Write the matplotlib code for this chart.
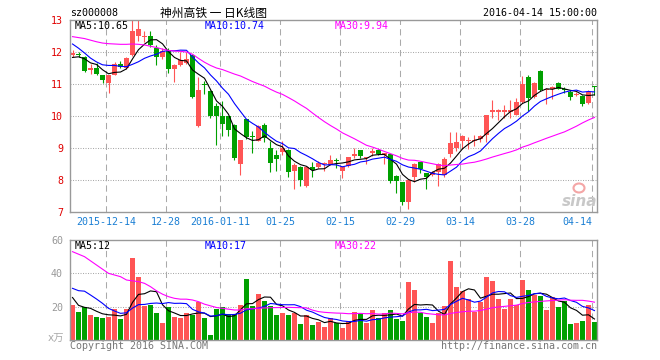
import matplotlib
matplotlib.use("Agg")
import matplotlib.pyplot as plt
from matplotlib.patches import Ellipse
import numpy as np
import pandas as pd

plt.rcParams['font.family'] = ['DejaVu Sans Mono', 'Noto Sans CJK SC']

# 日K数据 (2015-12-04 ~ 2016-04-14)
opens = [11.92, 11.92, 11.83, 11.45, 11.5, 11.27, 11.04, 11.29, 11.62, 11.5,
         11.9, 12.5, 12.46, 12.5, 12.12, 11.83, 12.04, 11.46, 11.59, 11.65,
         11.9, 9.69, 11.0, 10.79, 10.3, 10.01, 9.99, 9.71, 8.5, 9.92,
         9.35, 9.23, 9.71, 9.0, 8.77, 8.88, 8.95, 8.29, 8.41, 7.82,
         8.41, 8.41, 8.49, 8.48, 8.59, 8.27, 8.43, 8.74, 8.94, 8.68,
         8.84, 8.95, 8.77, 8.81, 8.14, 7.94, 7.31, 8.1, 8.56, 8.22,
         8.17, 8.25, 8.17, 8.81, 9.0, 9.23, 9.22, 9.22, 9.27, 9.42,
         10.14, 10.14, 10.14, 10.12, 10.04, 10.44, 11.21, 10.58, 11.42, 10.82,
         10.84, 11.03, 10.85, 10.75, 10.66, 10.63, 10.41, 10.92]
highs = [12.05, 12.0, 11.86, 11.62, 11.65, 11.28, 11.27, 11.69, 11.73, 11.83,
         13.0, 13.0, 12.65, 12.67, 12.23, 12.12, 12.12, 11.62, 12.01, 12.0,
         11.95, 11.21, 11.08, 10.8, 10.41, 10.48, 10.0, 9.75, 9.26, 9.92,
         9.52, 9.71, 9.78, 9.21, 8.94, 9.21, 8.96, 8.52, 8.43, 8.45,
         8.56, 8.58, 8.56, 8.77, 8.69, 8.43, 8.71, 9.0, 8.95, 8.72,
         9.0, 8.96, 8.85, 8.82, 8.17, 7.95, 8.04, 8.52, 8.57, 8.23,
         8.28, 8.52, 8.71, 9.5, 9.5, 9.42, 9.35, 9.4, 9.4, 10.04,
         10.51, 10.23, 10.33, 10.51, 10.56, 11.24, 11.27, 11.06, 11.43, 10.87,
         10.93, 11.06, 10.9, 10.82, 10.74, 10.67, 10.82, 10.94]
lows = [11.85, 11.83, 11.38, 11.3, 11.29, 11.04, 10.73, 11.27, 11.5, 11.48,
        11.88, 12.33, 12.31, 12.15, 11.6, 11.77, 11.35, 11.07, 11.57, 11.63,
        10.55, 9.66, 10.69, 9.94, 9.1, 9.36, 9.36, 8.64, 8.17, 9.29,
        8.84, 9.21, 9.2, 8.25, 8.27, 8.79, 8.08, 7.73, 7.8, 7.78,
        8.08, 8.38, 8.27, 8.46, 8.37, 8.06, 8.4, 8.69, 8.69, 8.5,
        8.74, 8.77, 8.5, 7.91, 7.59, 7.21, 7.1, 7.94, 8.22, 7.73,
        8.13, 7.8, 8.1, 8.71, 8.9, 8.98, 8.98, 9.05, 9.2, 9.19,
        9.94, 9.89, 9.94, 9.94, 10.02, 10.41, 10.17, 10.56, 10.77, 10.38,
        10.54, 10.83, 10.73, 10.51, 10.62, 10.3, 10.38, 10.67]
closes = [11.94, 11.9, 11.42, 11.48, 11.31, 11.12, 11.27, 11.63, 11.54, 11.81,
          12.67, 12.71, 12.49, 12.21, 11.85, 12.02, 11.48, 11.59, 11.75, 11.77,
          10.6, 10.81, 10.97, 9.99, 9.99, 9.75, 9.57, 8.69, 9.26, 9.33,
          9.33, 9.68, 9.31, 8.53, 8.67, 9.0, 8.25, 8.48, 8.0, 8.41,
          8.31, 8.53, 8.51, 8.64, 8.58, 8.4, 8.71, 8.81, 8.74, 8.69,
          8.92, 8.81, 8.84, 7.96, 7.96, 7.31, 8.01, 8.5, 8.35, 8.09,
          8.25, 8.5, 8.65, 9.15, 9.19, 9.38, 9.24, 9.24, 9.38, 10.02,
          10.16, 10.16, 10.16, 10.2, 10.44, 11.0, 10.56, 11.03, 10.82, 10.84,
          10.92, 10.85, 10.8, 10.6, 10.67, 10.38, 10.75, 10.9]
# 成交量 (x万)
volumes = [21, 16.8, 19.6, 15, 13.8, 13.4, 13.8, 18.6, 12.6, 18.6,
           49.2, 37.8, 20.6, 21, 16.2, 10.2, 19.8, 13.8, 13.4, 16.2,
           15, 22.8, 13.2, 3, 18.6, 19.8, 15.6, 15.6, 21, 36.6,
           20.4, 27.6, 23.4, 20.4, 15, 16.2, 15, 16.2, 9.6, 15,
           9, 10.8, 7.8, 13.4, 10.2, 7.2, 11.4, 16.8, 16.2, 10.2,
           18, 13.2, 16.2, 18, 12.6, 11.4, 34.8, 30, 16.2, 13.8,
           10.2, 16.2, 20.4, 47.4, 31.8, 29.4, 24.6, 16.8, 22.8, 37.8,
           35.4, 24.6, 18.6, 24.6, 21, 36, 30, 27, 26.4, 18,
           25.8, 19.8, 23.4, 9.6, 10.2, 11.4, 21, 10.8]

# 均线开头几根 (窗口之前的数据看不到, 直接从图上读)
ma5_head = [11.83, 11.85, 11.79, 11.66]
ma10_head = [12.25, 12.12, 11.97, 11.81, 11.69, 11.6, 11.58, 11.58, 11.55]
ma30_head = [12.48, 12.45, 12.42, 12.37, 12.32, 12.28, 12.26, 12.25, 12.24, 12.24,
             12.25, 12.24, 12.22, 12.18, 12.14, 12.09, 12.05, 12.03, 12.02, 12.0,
             11.93, 11.8, 11.68, 11.58, 11.5, 11.45, 11.38, 11.31, 11.25]
vol_ma5_head = [25.5, 20.8, 19.6, 19.0]
vol_ma10_head = [31, 29.6, 29.3, 27, 24.6, 22, 19, 17.4, 16]
vol_ma30_head = [53, 51.5, 50, 47.5, 45, 42.5, 40, 39, 38, 36,
                 35.5, 35, 34, 32, 29.5, 27.5, 26, 25, 24.5, 24.5,
                 24, 23, 21.5, 20.5, 19.5, 19, 18.5, 18, 18]

tick_index = [6, 16, 25, 35, 45, 55, 65, 75, 87]
tick_labels = ['2015-12-14', '12-28', '2016-01-11', '01-25', '02-15',
               '02-29', '03-14', '03-28', '04-14']
price_ticks = [7, 8, 9, 10, 11, 12, 13]
vol_ticks = [20, 40, 60]

RED = '#ff5555'
GREEN = '#00a000'
GRID = '#aaaaaa'
W, H = 660, 360


def moving_avg(values, n, head):
    s = pd.Series(values).rolling(n).mean().to_numpy()
    s[:len(head)] = head
    return s


def px_text(x, y, s, **kw):
    kw.setdefault('va', 'center')
    fig.text(x / W, 1 - y / H, s, **kw)


def style_axis(ax):
    for sp in ax.spines.values():
        sp.set_color('#999999')
        sp.set_linewidth(1)
    ax.set_xticks([])
    ax.set_xlim(-0.417, 87.42)
    for i in tick_index:
        ax.axvline(i - 0.417, color=GRID, lw=0.75, ls=(0, (6, 4)), zorder=0)


x = np.arange(len(closes))
o = np.array(opens)
c = np.array(closes)
colors = np.where(c >= o, RED, GREEN)

fig = plt.figure(figsize=(6.6, 3.6), dpi=100)
ax = fig.add_axes([70 / W, 1 - 212 / H, 527 / W, 192 / H])
axv = fig.add_axes([70 / W, 1 - 340 / H, 527 / W, 100 / H])

# ---- K线 ----
style_axis(ax)
ax.set_ylim(7, 13)
for v in price_ticks[1:-1]:
    ax.axhline(v, color=GRID, lw=0.75, ls=(0, (1, 1.4)), zorder=0)
ax.vlines(x, lows, highs, colors=colors, lw=0.8, zorder=2)
ax.bar(x, np.maximum(np.abs(c - o), 0.035), bottom=np.minimum(o, c),
       width=0.83, color=colors, linewidth=0, zorder=2)
ax.plot(x, moving_avg(closes, 5, ma5_head), color='black', lw=0.8, zorder=3)
ax.plot(x, moving_avg(closes, 10, ma10_head), color='#0000ff', lw=0.8, zorder=3)
ax.plot(x, moving_avg(closes, 30, ma30_head), color='#ff00ff', lw=0.8, zorder=3)
ax.set_yticks(price_ticks)
ax.set_yticklabels([str(t) for t in price_ticks], color='#e00000', fontsize=7.2)
ax.tick_params(axis='y', length=0, pad=5)

# ---- 成交量 ----
style_axis(axv)
axv.set_ylim(0, 60)
for v in vol_ticks[:-1]:
    axv.axhline(v, color=GRID, lw=0.75, ls=(0, (1, 1.4)), zorder=0)
axv.bar(x, volumes, width=0.83, color=colors, linewidth=0, zorder=2)
axv.plot(x, moving_avg(volumes, 5, vol_ma5_head), color='black', lw=0.8, zorder=3)
axv.plot(x, moving_avg(volumes, 10, vol_ma10_head), color='#0000ff', lw=0.8, zorder=3)
axv.plot(x, moving_avg(volumes, 30, vol_ma30_head), color='#ff00ff', lw=0.8, zorder=3)
axv.set_yticks(vol_ticks)
axv.set_yticklabels([str(t) for t in vol_ticks], color='#999999', fontsize=7.2)
axv.tick_params(axis='y', length=0, pad=5)

# 日期标签 (居中在网格线上, 最后一个往左收)
for i, lab in zip(tick_index, tick_labels):
    px = 70 + i * 6
    if i == tick_index[-1]:
        px = 577
    px_text(px, 222, lab, ha='center', color='#1a7fd4', fontsize=7.2)

# 标题行
px_text(70, 13, 'sz000008', ha='left', fontsize=7.2)
px_text(213, 13, '神州高铁 一 日K线图', ha='center', fontsize=8.5,
        family=['Noto Sans CJK SC', 'DejaVu Sans'])
px_text(597, 13, '2016-04-14 15:00:00', ha='right', fontsize=7.2)

# 均线数值
px_text(75, 26, 'MA5:10.65', ha='left', fontsize=7.2, color='black')
px_text(205, 26, 'MA10:10.74', ha='left', fontsize=7.2, color='#0000ff')
px_text(335, 26, 'MA30:9.94', ha='left', fontsize=7.2, color='#ff00ff')
px_text(75, 246, 'MA5:12', ha='left', fontsize=7.2, color='black')
px_text(205, 246, 'MA10:17', ha='left', fontsize=7.2, color='#0000ff')
px_text(335, 246, 'MA30:22', ha='left', fontsize=7.2, color='#ff00ff')

px_text(64, 339, 'x万', ha='right', fontsize=7.5, color='#aaaaaa',
        family=['DejaVu Sans', 'Noto Sans CJK SC'])
px_text(70, 346, 'Copyright 2016 SINA.COM', ha='left', fontsize=7.2, color='#777777')
px_text(597, 346, 'http://finance.sina.com.cn', ha='right', fontsize=7.2, color='#777777')

# 新浪水印
fig.add_artist(Ellipse((579 / W, 1 - 188 / H), 11 / W, 9 / H,
                       facecolor='none', edgecolor='#f4a6a6', lw=1.5))
px_text(580, 201, 'sina', ha='center', fontsize=11, color='#c8c8c8',
        weight='bold', style='italic', family='DejaVu Sans')

fig.savefig('out.png', dpi=100)
